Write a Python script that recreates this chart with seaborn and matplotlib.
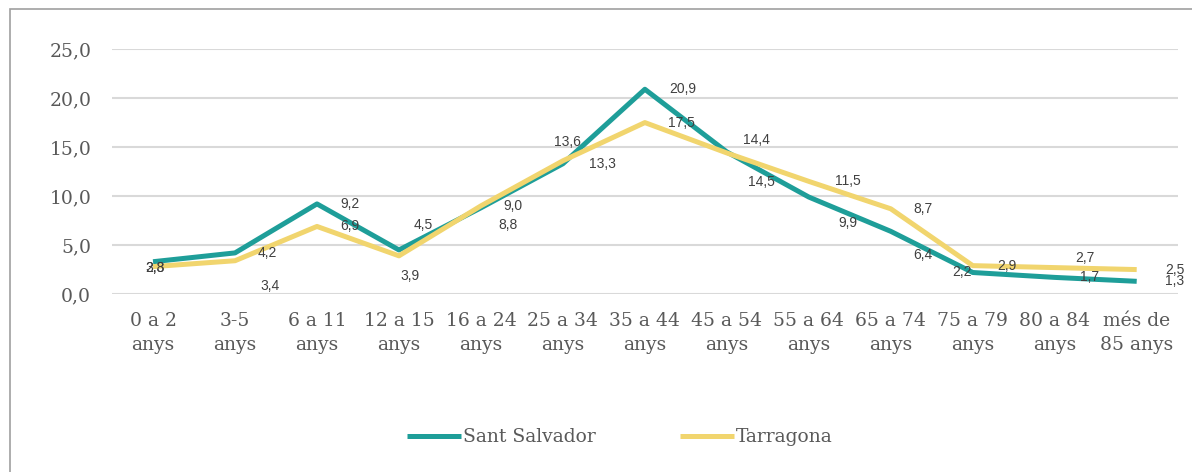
import matplotlib
matplotlib.use('Agg')
import matplotlib.pyplot as plt
import seaborn as sns
import pandas as pd
from matplotlib.patches import Rectangle


# Grups d'edat i percentatges de població
grups = ['0 a 2\nanys', '3-5\nanys', '6 a 11\nanys', '12 a 15\nanys', '16 a 24\nanys',
         '25 a 34\nanys', '35 a 44\nanys', '45 a 54\nanys', '55 a 64\nanys',
         '65 a 74\nanys', '75 a 79\nanys', '80 a 84\nanys', 'més de\n85 anys']
sant_salvador = [3.3, 4.2, 9.2, 4.5, 8.8, 13.3, 20.9, 14.5, 9.9, 6.4, 2.2, 1.7, 1.3]
tarragona = [2.8, 3.4, 6.9, 3.9, 9.0, 13.6, 17.5, 14.4, 11.5, 8.7, 2.9, 2.7, 2.5]

# desplaçament de les etiquetes (px), com a l'original
ss_dx = [2, 32, 33, 24, 27, 40, 38, 35, 39, 32, -11, 35, 38]
ss_dy = [-6, 0, 0, 25, -17, 0, 0, -30, -26, -24, 0, 0, 0]
tg_dx = [2, 35, 33, 11, 32, 5, 37, 30, 39, 32, 34, 30, 38]
tg_dy = [-1, -25, 0, -20, 0, 19, 0, 13, 0, 0, 0, 10, 0]

df = pd.DataFrame({
    'grup': list(range(len(grups))) * 2,
    'valor': sant_salvador + tarragona,
    'zona': ['Sant Salvador'] * len(grups) + ['Tarragona'] * len(grups),
})

sns.set_style('white')
plt.rcParams['font.family'] = ['DejaVu Serif']

colors = {'Sant Salvador': '#1E9E99', 'Tarragona': '#F1D56E'}

fig = plt.figure(figsize=(11.92, 4.72), dpi=100)
ax = fig.add_axes([0.094, 0.377, 0.894, 0.519])

sns.lineplot(data=df, x='grup', y='valor', hue='zona', palette=colors,
             linewidth=3.6, ax=ax, legend=True, solid_capstyle='butt')

ax.set_xlim(-0.5, len(grups) - 0.5)
ax.set_ylim(0, 25)
ax.set_yticks([0, 5, 10, 15, 20, 25])
ax.set_yticklabels([f'{v:.1f}'.replace('.', ',') for v in [0, 5, 10, 15, 20, 25]])
ax.set_xticks(range(len(grups)))
ax.set_xticklabels(grups, linespacing=1.45)
ax.tick_params(axis='both', length=0, labelsize=13.5, colors='#595959')
ax.tick_params(axis='y', pad=15)
ax.tick_params(axis='x', pad=13)
ax.grid(axis='y', color='#D9D9D9', linewidth=1.5)
for s in ax.spines.values():
    s.set_visible(False)
ax.set_xlabel('')
ax.set_ylabel('')

for vals, dxs, dys in [(sant_salvador, ss_dx, ss_dy), (tarragona, tg_dx, tg_dy)]:
    for i, v in enumerate(vals):
        ax.annotate(f'{v:.1f}'.replace('.', ','), (i, v), xytext=(dxs[i], dys[i]),
                    textcoords='offset pixels', ha='center', va='center',
                    fontsize=10, color='#404040', family='Liberation Sans')

handles, labels = ax.get_legend_handles_labels()
ax.legend(handles, labels, loc='center', bbox_to_anchor=(0.52, 0.0735),
          bbox_transform=fig.transFigure, ncol=2, frameon=False,
          fontsize=13.5, handlelength=2.9, handletextpad=0.1, columnspacing=4.5,
          labelcolor='#595959')

fig.patches.append(Rectangle((0.0084, -0.1), 1.2, 1.081, transform=fig.transFigure,
                             fill=False, edgecolor='#A0A0A0', linewidth=1.2))

fig.savefig('out.png', dpi=100)
